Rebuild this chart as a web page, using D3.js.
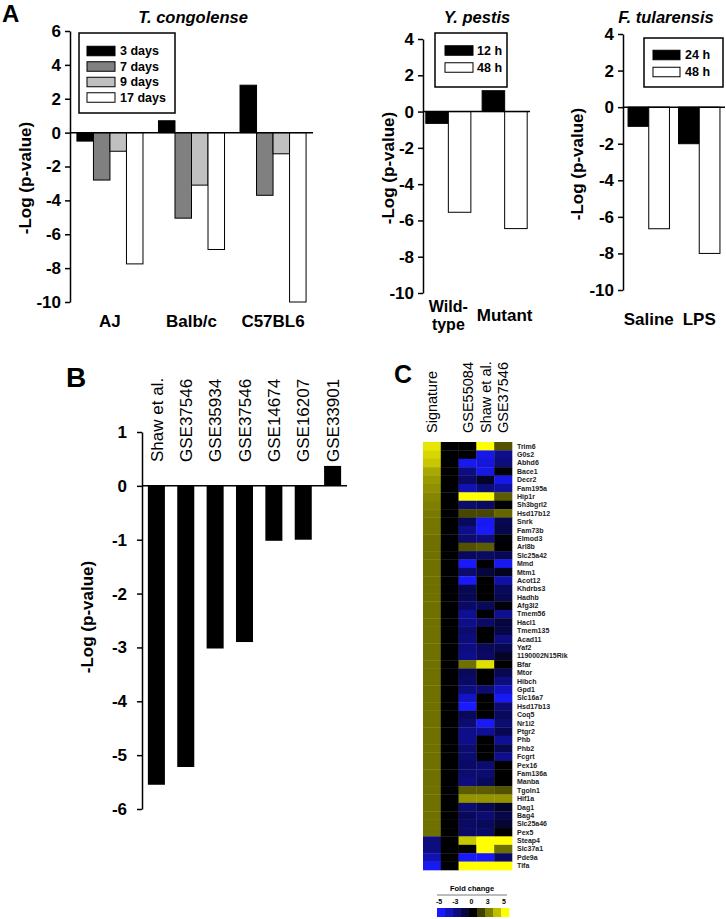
<!DOCTYPE html>
<html><head><meta charset="utf-8">
<script src="https://cdn.jsdelivr.net/npm/d3@7"></script>
<style>body{margin:0;background:#fff} svg{display:block} text{font-family:"Liberation Sans",Arial,Helvetica,sans-serif}</style>
</head><body><svg id="c" width="726" height="919"></svg>
<script>
// ---------- DATA ----------
const congoStrains = ["AJ", "Balb/c", "C57BL6"];
const congoSeries = ["3 days", "7 days", "9 days", "17 days"];
const congo3d = [-0.5, 0.7, 2.8];
const congo7d = [-2.8, -5.05, -3.7];
const congo9d = [-1.1, -3.1, -1.25];
const congo17d = [-7.75, -6.9, -10];
const congoTicks = [6, 4, 2, 0, -2, -4, -6, -8, -10];

const pestisGroups = ["Wild-type", "Mutant"];
const pestisSeries = ["12 h", "48 h"];
const pestis12h = [-0.65, 1.15];
const pestis48h = [-5.55, -6.45];

const tularGroups = ["Saline", "LPS"];
const tularSeries = ["24 h", "48 h"];
const tular24h = [-1.05, -2.0];
const tular48h = [-6.65, -8.0];
const smallTicks = [4, 2, 0, -2, -4, -6, -8, -10];

const bDatasets = ["Shaw et al.", "GSE37546", "GSE35934", "GSE37546", "GSE14674", "GSE16207", "GSE33901"];
const bValues = [-5.55, -5.22, -3.02, -2.9, -1.02, -1.0, 0.37];
const bTicks = [1, 0, -1, -2, -3, -4, -5, -6];

const heatColumns = ["Signature", "", "GSE55084", "Shaw et al.", "GSE37546"];
const genes = ["Trim6","G0s2","Abhd6","Bace1","Decr2","Fam195a","Hip1r","Sh3bgrl2","Hsd17b12","Snrk",
  "Fam73b","Elmod3","Arl8b","Slc25a42","Mmd","Mtm1","Acot12","Khdrbs3","Hadhb","Afg3l2",
  "Tmem56","Hacl1","Tmem135","Acad11","Yaf2","1190002N15Rik","Bfar","Mtor","Hibch","Gpd1",
  "Slc16a7","Hsd17b13","Coq5","Nr1i2","Ptgr2","Phb","Phb2","Fcgrt","Pex16","Fam136a",
  "Manba","Tgoln1","Hif1a","Dag1","Bag4","Slc25a46","Pex5","Steap4","Slc37a1","Pde9a","Tifa"];
const sigValues = [4.5,4.2,3.9,3.3,3.0,2.8,2.6,2.5,2.4,2.3,
  2.3,2.2,2.2,2.2,2.2,2.2,2.2,2.2,2.2,2.2,
  2.2,2.2,2.2,2.2,2.2,2.2,2.2,2.2,2.2,2.2,
  2.2,2.2,2.2,2.2,2.2,2.2,2.2,2.2,2.2,2.2,
  2.2,2.2,2.2,2.2,2.2,2.2,2.2,-2.5,-2.5,-3.5,-4.8];
const sepValues = [0,0,0,0,0,0,0,0,0,0, 0,0,0,0,0,0,0,0,0,0, 0,0,0,0,0,0,0,0,0,0,
  0,0,0,0,0,0,0,0,0,0, 0,0,0,0,0,0,0,0,0,0,0];
const gse55084Values = [0,0,-4.7,-2.5,-2.0,-3.5,5,-2.2,1.4,-1.8,
  -2.7,-2.2,1.6,-1.8,-4.9,-2.2,-4.9,-1.6,-1.6,-2.0,
  -2.9,-2.7,-2.2,-2.4,-2.5,-2.7,2.2,-1.8,-2.0,-2.5,
  -3.9,-5,-1.8,-2.2,-2.7,-2.7,-2.2,-2.2,-2.0,-2.2,
  -2.5,1.8,2.9,-2.2,-1.8,-2.0,-2.0,3.9,0,-4.9,5];
const shawValues = [5,-4.5,-4.3,-4.5,-0.8,-2.4,5,-2.0,1.4,-4.7,
  -4.9,-2.5,1.8,-2.0,0,-1.2,0,0,0,-1.8,
  0,-2.0,0,0,-1.8,-2.0,4.4,0,0,-2.2,
  0,0,0,-4.9,-2.9,0,0,0,-2.2,-2.2,
  -1.8,1.8,2.9,-1.6,-2.2,-1.8,-2.0,5,5,-4.9,5];
const gse37546Values = [1.6,-2.7,-2.4,-0.2,-4.5,-3.1,1.8,-0.2,2.0,-1.6,
  -1.4,-0.2,0,-1.6,-4.7,-0.6,-3.3,-1.8,-1.6,-0.2,
  -2.8,-1.2,-1.4,-2.5,-1.6,-0.8,0,-1.6,-2.5,-3.7,
  -4.8,-2.2,-1.8,-2.2,-1.6,-2.9,-1.6,-2.7,0,0,
  0,1.6,2.9,-0.8,-1.4,-1.0,0,5,2.2,-2.0,5];
const foldTicks = ["-5", "-3", "0", "3", "5"];
const foldSteps = [-5, -3.75, -2.5, -1.25, 0, 1.25, 2.5, 3.75, 5];

// ---------- DRAW ----------
const FONT = '"Liberation Sans", Arial, Helvetica, sans-serif';
const svg = d3.select("#c");

function drawBars(o) {
  const g = svg.append("g");
  const x0 = d3.scaleBand().domain(o.groups).range(o.xRange).paddingInner(o.pi).paddingOuter(o.po);
  const x1 = d3.scaleBand().domain(o.series).range([0, x0.bandwidth()]);
  const y = d3.scaleLinear().domain(o.yDomain).range(o.yRange);
  const color = d3.scaleOrdinal().domain(o.series).range(o.colors);

  const ax = g.append("g").attr("transform", `translate(${o.xRange[0]},0)`)
    .call(d3.axisLeft(y).tickValues(o.ticks).tickSize(5).tickSizeOuter(0).tickPadding(4).tickFormat(d => String(d)));
  ax.attr("font-size", 17).attr("font-weight", "bold").attr("font-family", FONT);
  ax.select(".domain").attr("stroke-width", 1.5);
  ax.selectAll(".tick line").attr("stroke-width", 1.5);
  ax.selectAll(".tick text").attr("fill", "#000");

  o.series.forEach((s, si) => {
    g.selectAll(null).data(o.groups).join("rect")
      .attr("x", d => x0(d) + x1(s)).attr("width", x1.bandwidth())
      .attr("y", (d, i) => y(Math.max(0, o.values[si][i])))
      .attr("height", (d, i) => Math.abs(y(o.values[si][i]) - y(0)))
      .attr("fill", color(s)).attr("stroke", "#000").attr("stroke-width", 1);
  });
  g.append("line").attr("x1", o.xRange[0]).attr("x2", o.xRange[1])
    .attr("y1", y(0)).attr("y2", y(0)).attr("stroke", "#000").attr("stroke-width", 1.5);

  // x labels
  o.groups.forEach(grp => {
    const lines = grp.split(/(?<=-)/);
    const multi = lines.length > 1;
    const lh = 18;
    const t = g.append("text").attr("text-anchor", "middle").attr("font-size", multi ? 16 : 17).attr("font-weight", "bold");
    lines.forEach((ln, i) => {
      t.append("tspan").attr("x", x0(grp) + x0.bandwidth() / 2)
        .attr("y", o.labelY - (lines.length - 1) * lh / 2 + i * lh).text(ln);
    });
  });
  // title
  g.append("text").attr("x", o.titleX).attr("y", 23).attr("text-anchor", "middle")
    .attr("font-size", 16.5).attr("font-weight", "bold").attr("font-style", "italic").text(o.title);
  // y label
  g.append("text").attr("transform", `translate(${o.ylabX},${o.ylabY}) rotate(-90)`)
    .attr("text-anchor", "middle").attr("dy", "0.35em").attr("font-size", 17).attr("font-weight", "bold")
    .text("-Log (p-value)");
  // legend
  const L = o.legend;
  g.append("rect").attr("x", L.x).attr("y", L.y).attr("width", L.w).attr("height", L.h)
    .attr("fill", "#fff").attr("stroke", "#000").attr("stroke-width", 1.5);
  o.series.forEach((s, i) => {
    const cy = L.row0 + i * L.step;
    g.append("rect").attr("x", L.swX).attr("y", cy - 4.75).attr("width", L.swW).attr("height", 9.5)
      .attr("fill", color(s)).attr("stroke", "#000").attr("stroke-width", 1);
    g.append("text").attr("x", L.textX).attr("y", cy).attr("dy", "0.35em")
      .attr("font-size", 12.5).attr("font-weight", "bold").text(s);
  });
}

drawBars({
  groups: congoStrains, series: congoSeries, values: [congo3d, congo7d, congo9d, congo17d],
  colors: ["#000000", "#808080", "#c0c0c0", "#ffffff"],
  xRange: [70, 313], pi: 0.19, po: 0.085, yDomain: [-10, 6], yRange: [302, 31], ticks: congoTicks,
  labelY: 327, title: "T. congolense", titleX: 193, ylabX: 25, ylabY: 178,
  legend: {x: 79, y: 33, w: 96, h: 80, swX: 87, swW: 28, row0: 51, step: 15.5, textX: 120}
});
drawBars({
  groups: pestisGroups, series: pestisSeries, values: [pestis12h, pestis48h],
  colors: ["#000000", "#ffffff"],
  xRange: [423, 530], pi: 0.2, po: 0.05, yDomain: [-10, 4], yRange: [293, 39], ticks: smallTicks,
  labelY: 321, title: "Y. pestis", titleX: 477, ylabX: 388, ylabY: 168,
  legend: {x: 435, y: 33, w: 72, h: 54, swX: 445, swW: 28, row0: 50.5, step: 17, textX: 477}
});
drawBars({
  groups: tularGroups, series: tularSeries, values: [tular24h, tular48h],
  colors: ["#000000", "#ffffff"],
  xRange: [623, 725], pi: 0.18, po: 0.1, yDomain: [-10, 4], yRange: [290, 34], ticks: smallTicks,
  labelY: 325, title: "F. tularensis", titleX: 666, ylabX: 577, ylabY: 164,
  legend: {x: 644, y: 38, w: 79, h: 49, swX: 653, swW: 27, row0: 55, step: 17, textX: 685}
});

// panel letters
svg.append("text").attr("x", 2).attr("y", 22).attr("font-size", 24).attr("font-weight", "bold").text("A");
svg.append("text").attr("x", 66).attr("y", 387).attr("font-size", 28).attr("font-weight", "bold").text("B");
svg.append("text").attr("x", 394).attr("y", 383).attr("font-size", 25).attr("font-weight", "bold").text("C");

// ---------- Panel B ----------
{
  const g = svg.append("g");
  const idx = bDatasets.map((d, i) => i);
  const x = d3.scaleBand().domain(idx).range([142, 347]).paddingInner(0.42).paddingOuter(0.2);
  const y = d3.scaleLinear().domain([-6, 1]).range([809, 432]);
  const ax = g.append("g").attr("transform", "translate(142,0)")
    .call(d3.axisLeft(y).tickValues(bTicks).tickSize(5).tickSizeOuter(0).tickPadding(10).tickFormat(d => String(d)));
  ax.attr("font-size", 17).attr("font-weight", "bold").attr("font-family", FONT);
  ax.select(".domain").attr("stroke-width", 1.5);
  ax.selectAll(".tick line").attr("stroke-width", 1.5);
  ax.selectAll(".tick text").attr("fill", "#000");
  g.selectAll(null).data(idx).join("rect")
    .attr("x", i => x(i)).attr("width", x.bandwidth())
    .attr("y", i => y(Math.max(0, bValues[i])))
    .attr("height", i => Math.abs(y(bValues[i]) - y(0)))
    .attr("fill", "#000");
  g.append("line").attr("x1", 142).attr("x2", 347).attr("y1", y(0)).attr("y2", y(0))
    .attr("stroke", "#000").attr("stroke-width", 1.5);
  g.selectAll(null).data(idx).join("text")
    .attr("transform", i => `translate(${x(i) + x.bandwidth() / 2},462) rotate(-90)`)
    .attr("dy", "0.36em").attr("font-size", 17).text(i => bDatasets[i]);
  g.append("text").attr("transform", "translate(87,617) rotate(-90)")
    .attr("text-anchor", "middle").attr("dy", "0.35em").attr("font-size", 17).attr("font-weight", "bold")
    .text("-Log (p-value)");
}

// ---------- Panel C ----------
{
  const g = svg.append("g");
  const cols = [sigValues, sepValues, gse55084Values, shawValues, gse37546Values];
  const colIdx = heatColumns.map((d, i) => i);
  const x = d3.scaleBand().domain(colIdx).range([423, 512]);
  const y = d3.scaleBand().domain(genes).range([442, 870]);
  const color = d3.scaleLinear().domain([-5, 0, 5]).range(["#1a1aff", "#000000", "#ffff00"]).clamp(true);
  colIdx.forEach(c => {
    g.selectAll(null).data(genes).join("rect")
      .attr("x", x(c)).attr("width", x.bandwidth() + 0.3)
      .attr("y", d => y(d)).attr("height", y.bandwidth() + 0.3)
      .attr("fill", (d, i) => color(cols[c][i]));
  });
  g.selectAll(null).data(colIdx.filter(c => heatColumns[c] !== "")).join("text")
    .attr("transform", c => `translate(${x(c) + x.bandwidth() / 2},433) rotate(-90)`)
    .attr("dy", "0.36em").attr("font-size", 14.5).text(c => heatColumns[c]);
  g.selectAll(null).data(genes).join("text")
    .attr("x", 517).attr("y", d => y(d) + y.bandwidth() / 2).attr("dy", "0.35em")
    .attr("font-size", 7).attr("font-weight", "bold").attr("fill", "#222").text(d => d);

  // legend
  g.append("text").attr("x", 472).attr("y", 891).attr("text-anchor", "middle")
    .attr("font-size", 7.5).attr("font-weight", "bold").text("Fold change");
  g.append("line").attr("x1", 437).attr("x2", 507).attr("y1", 895).attr("y2", 895)
    .attr("stroke", "#555").attr("stroke-width", 0.8);
  const xt = d3.scalePoint().domain(foldTicks).range([439, 504]);
  g.selectAll(null).data(foldTicks).join("text")
    .attr("x", d => xt(d)).attr("y", 904).attr("text-anchor", "middle")
    .attr("font-size", 7).attr("font-weight", "bold").text(d => d);
  const xs = d3.scaleBand().domain(foldSteps).range([437, 509]);
  g.selectAll(null).data(foldSteps).join("rect")
    .attr("x", d => xs(d)).attr("width", xs.bandwidth() + 0.3)
    .attr("y", 908).attr("height", 9).attr("fill", d => color(d));
}
</script>
</body></html>
